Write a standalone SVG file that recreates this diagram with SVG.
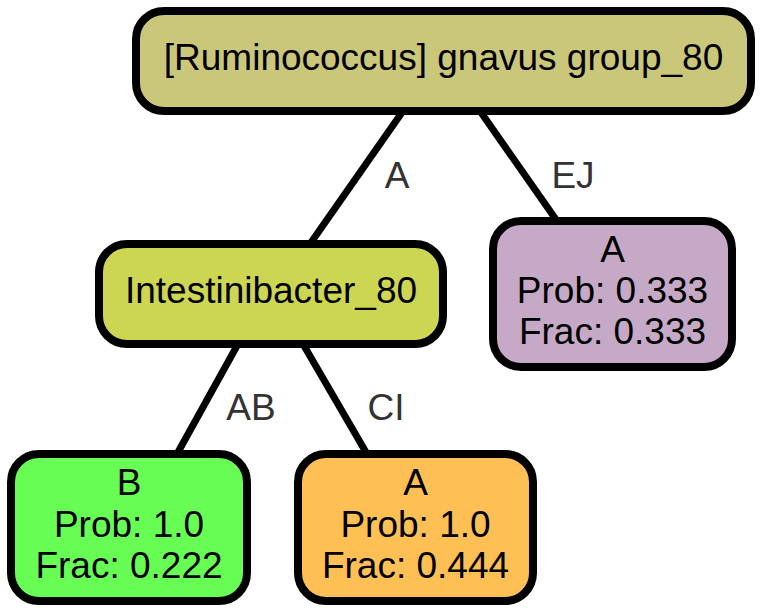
<svg xmlns="http://www.w3.org/2000/svg" width="763" height="613" viewBox="0 0 763 613">
<style>
.node rect{stroke:#000;stroke-width:8}
.node text{font-family:"Liberation Sans",Arial,Helvetica,sans-serif;font-size:37px;fill:#000;text-anchor:middle}
.edges line{stroke:#000;stroke-width:7}
.elabel{font-family:"Liberation Sans",Arial,Helvetica,sans-serif;font-size:37px;fill:#333;text-anchor:middle}
</style>
<rect width="763" height="613" fill="#fff"/>
<g id="edges" class="edges">
<line x1="403" y1="111" x2="310" y2="244"/>
<line x1="480" y1="111" x2="557" y2="221"/>
<line x1="238" y1="344" x2="177" y2="454"/>
<line x1="303" y1="344" x2="367" y2="454"/>
<text class="elabel" x="397" y="188">A</text>
<text class="elabel" x="573" y="188">EJ</text>
<text class="elabel" x="251" y="420">AB</text>
<text class="elabel" x="386" y="420">CI</text>
</g>
<g id="root" class="node">
<rect x="136" y="11" width="615" height="100" rx="28" fill="#CBC77A"/>
<text x="443.5" y="70">[Ruminococcus] gnavus group_80</text>
</g>
<g id="intestinibacter" class="node">
<rect x="99" y="244" width="344" height="100" rx="28" fill="#CDD652"/>
<text x="271" y="303">Intestinibacter_80</text>
</g>
<g id="leafEJ" class="node">
<rect x="493" y="221" width="239" height="146" rx="28" fill="#C5A9C7"/>
<text x="612.5" y="262">A</text>
<text x="612.5" y="303">Prob: 0.333</text>
<text x="612.5" y="344">Frac: 0.333</text>
</g>
<g id="leafAB" class="node">
<rect x="11" y="454" width="236" height="147" rx="28" fill="#67FD55"/>
<text x="129" y="495">B</text>
<text x="129" y="537">Prob: 1.0</text>
<text x="129" y="578">Frac: 0.222</text>
</g>
<g id="leafCI" class="node">
<rect x="298" y="454" width="235" height="147" rx="28" fill="#FEBF55"/>
<text x="415.5" y="495">A</text>
<text x="415.5" y="537">Prob: 1.0</text>
<text x="415.5" y="578">Frac: 0.444</text>
</g>
</svg>
